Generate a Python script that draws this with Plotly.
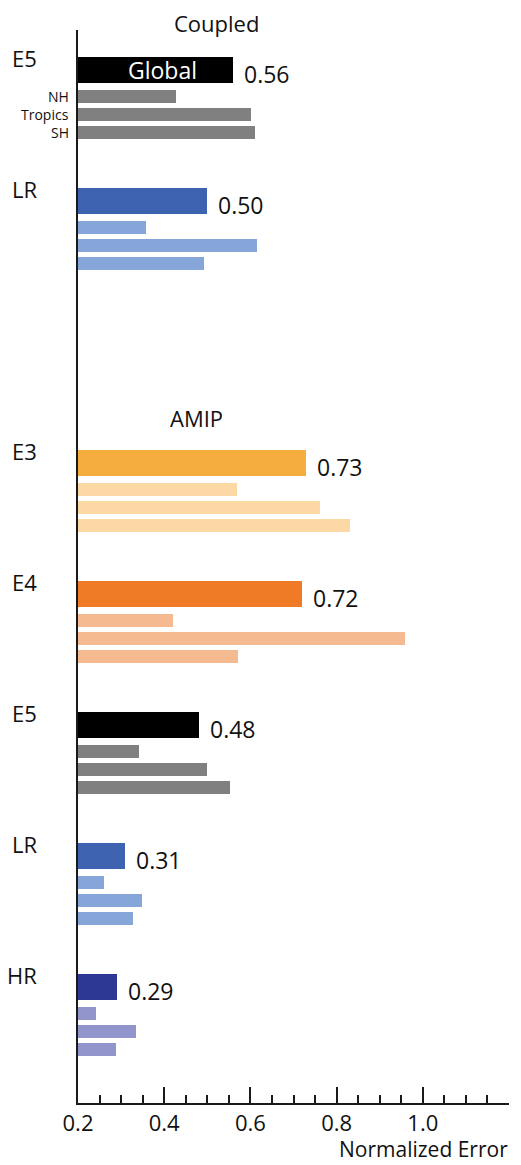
import plotly.graph_objects as go

# ---------------- data ----------------
models = ["E5", "LR", "E3", "E4", "E5", "LR", "HR"]
experiment = ["Coupled", "Coupled", "AMIP", "AMIP", "AMIP", "AMIP", "AMIP"]
global_err = [0.56, 0.50, 0.73, 0.72, 0.48, 0.31, 0.29]
nh_err = [0.427, 0.358, 0.568, 0.420, 0.342, 0.261, 0.242]
tropics_err = [0.602, 0.616, 0.761, 0.958, 0.499, 0.348, 0.335]
sh_err = [0.611, 0.492, 0.831, 0.571, 0.553, 0.328, 0.289]
region_labels = ["NH", "Tropics", "SH"]
global_colors = ["#000000", "#3d63b0", "#f5ae3e", "#ef7b27", "#000000", "#3d63b0", "#2c3893"]
region_colors = ["#808080", "#86a5d8", "#fcd9a4", "#f6ba90", "#808080", "#86a5d8", "#9195cb"]
x_ticks = [0.2, 0.4, 0.6, 0.8, 1.0]

# ---------------- layout constants (page pixels) ----------------
PAGE_W, PAGE_H = 521, 1165
BODY = 8                                  # default body margin of the html page
W, H = PAGE_W - BODY, PAGE_H - BODY
AX_L, AX_R, AX_T, AX_B = 78, 509, 30, 1103  # plot area in page pixels
M_L = AX_L - BODY
M_T = AX_T - BODY
M_R = W - (AX_R - BODY)
M_B = H - (AX_B - BODY)
PW = AX_R - AX_L

slot_first, slot_step = 70.0, 131.0
slot_index = [0, 1, 3, 4, 5, 6, 7]   # slot 2 left empty for the AMIP title
sub_offsets = [26.0, 44.0, 62.0]
G_W, S_W = 26, 13
FONT = "Open Sans, Liberation Sans, sans-serif"

centers = [slot_first + slot_step * s for s in slot_index]


def px(xpage):
    return (xpage - AX_L) / PW


def py(ypage):
    return (AX_B - ypage) / (AX_B - AX_T)


fig = go.Figure()

fig.add_trace(go.Bar(
    orientation="h", x=global_err, y=centers, width=[G_W] * len(centers),
    marker=dict(color=global_colors, line=dict(width=0)), showlegend=False,
    hoverinfo="skip",
))
for k, vals in enumerate([nh_err, tropics_err, sh_err]):
    fig.add_trace(go.Bar(
        orientation="h", x=vals, y=[c + sub_offsets[k] for c in centers],
        width=[S_W] * len(centers),
        marker=dict(color=region_colors, line=dict(width=0)), showlegend=False,
        hoverinfo="skip",
    ))

ann = []
for i, c in enumerate(centers):
    ann.append(dict(x=global_err[i], y=c + 4, xref="x", yref="y", text=f"{global_err[i]:.2f}",
                    showarrow=False, xanchor="left", yanchor="middle", xshift=9,
                    font=dict(family=FONT, size=23, color="#111111")))
    ann.append(dict(x=px(39), y=c - 12, xref="paper", yref="y", text=models[i],
                    showarrow=False, xanchor="right", yanchor="middle",
                    font=dict(family=FONT, size=22, color="#111111")))

ann.append(dict(x=(0.2 + global_err[0]) / 2, y=centers[0], xref="x", yref="y", text="Global",
                showarrow=False, xanchor="center", yanchor="middle", xshift=7,
                font=dict(family=FONT, size=23, color="white")))
for k, lab in enumerate(region_labels):
    ann.append(dict(x=px(71), y=centers[0] + sub_offsets[k], xref="paper", yref="y",
                    text=lab, showarrow=False, xanchor="right", yanchor="middle",
                    font=dict(family=FONT, size=14, color="#111111")))

ann.append(dict(x=px(216), y=py(23), xref="paper", yref="paper", text="Coupled",
                showarrow=False, xanchor="center", yanchor="middle",
                font=dict(family=FONT, size=22, color="#111111")))
ann.append(dict(x=px(196), y=py(418), xref="paper", yref="paper", text="AMIP",
                showarrow=False, xanchor="center", yanchor="middle",
                font=dict(family=FONT, size=22, color="#111111")))
ann.append(dict(x=px(510), y=py(1149), xref="paper", yref="paper", text="Normalized Error",
                showarrow=False, xanchor="right", yanchor="middle",
                font=dict(family=FONT, size=21, color="#111111")))

fig.update_layout(
    width=W, height=H,
    margin=dict(l=M_L, r=M_R, t=M_T, b=M_B, pad=0),
    plot_bgcolor="white", paper_bgcolor="white",
    barmode="overlay", bargap=0,
    annotations=ann,
    xaxis=dict(range=[0.2, 1.2], showgrid=False, zeroline=False, showline=True,
               linecolor="#1a1a1a", linewidth=2, ticks="inside", ticklen=16, tickwidth=1.5,
               tickcolor="#1a1a1a", tickvals=x_ticks + [1.2],
               ticktext=[f"{v:.1f}" for v in x_ticks] + [""],
               tickfont=dict(family=FONT, size=22, color="#111111"),
               minor=dict(ticks="inside", ticklen=8, tickwidth=1.5, tickcolor="#1a1a1a",
                          dtick=0.05, tick0=0.2, showgrid=False),
               fixedrange=True),
    yaxis=dict(range=[AX_B, AX_T], showgrid=False, zeroline=False, showline=True,
               linecolor="#1a1a1a", linewidth=2, showticklabels=False, ticks="",
               fixedrange=True),
)

fig.write_html("out.html")
